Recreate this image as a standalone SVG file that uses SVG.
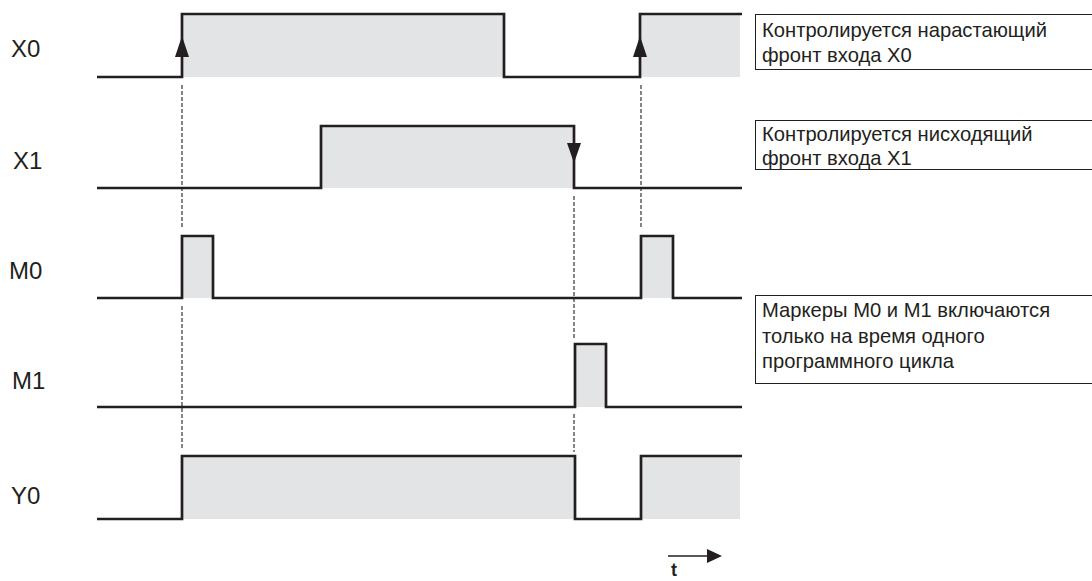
<svg xmlns="http://www.w3.org/2000/svg" width="1092" height="581" viewBox="0 0 1092 581">
<defs>
<style>
.fill{fill:#e3e4e6;stroke:none}
.sig{fill:none;stroke:#231f20;stroke-width:2.7;stroke-linejoin:miter}
.dash{fill:none;stroke:#231f20;stroke-width:1.1;stroke-dasharray:4 2}
.lbl{font-family:"Liberation Sans",Arial,sans-serif;font-size:24px;fill:#231f20}
.note{font-family:"Liberation Sans",Arial,sans-serif;font-size:20.2px;fill:#231f20}
.box{fill:#ffffff;stroke:#231f20;stroke-width:1}
.ah{fill:#231f20;stroke:none}
</style>
</defs>
<rect width="1092" height="581" fill="#ffffff"/>
<g id="X0">
<rect class="fill" x="182" y="14" width="322" height="63"/>
<rect class="fill" x="640" y="14" width="100" height="63"/>
<polyline class="sig" points="97,77 182,77 182,14 504,14 504,77 640,77 640,14 742,14"/>
<polygon class="ah" points="182,36 175,57 189,57"/>
<polygon class="ah" points="640,36 633,57 647,57"/>
<text class="lbl" x="11" y="57">X0</text>
</g>
<g id="X1">
<rect class="fill" x="321" y="126" width="253" height="62"/>
<polyline class="sig" points="97,188 321,188 321,126 574,126 574,188 742,188"/>
<polygon class="ah" points="574,163 567,143 581,143"/>
<text class="lbl" x="13" y="169">X1</text>
</g>
<g id="M0">
<rect class="fill" x="182" y="236" width="31" height="62"/>
<rect class="fill" x="641" y="236" width="32" height="62"/>
<polyline class="sig" points="97,298 182,298 182,236 213,236 213,298 641,298 641,236 673,236 673,298 742,298"/>
<text class="lbl" x="9" y="279">M0</text>
</g>
<g id="M1">
<rect class="fill" x="575" y="344" width="31" height="63"/>
<polyline class="sig" points="97,407 575,407 575,344 606,344 606,407 742,407"/>
<text class="lbl" x="12" y="389">M1</text>
</g>
<g id="Y0">
<rect class="fill" x="182" y="456" width="393" height="63"/>
<rect class="fill" x="641" y="456" width="99" height="63"/>
<polyline class="sig" points="97,519 182,519 182,456 575,456 575,519 641,519 641,456 742,456"/>
<text class="lbl" x="11" y="504">Y0</text>
</g>
<g id="connectors">
<line class="dash" x1="182" y1="85" x2="182" y2="229"/>
<line class="dash" x1="182" y1="306" x2="182" y2="450"/>
<line class="dash" x1="574" y1="196" x2="574" y2="338"/>
<line class="dash" x1="574" y1="414" x2="574" y2="452"/>
<line class="dash" x1="641" y1="85" x2="641" y2="229"/>
</g>
<g id="note1">
<rect class="box" x="755.5" y="14.5" width="340" height="55"/>
<text class="note" x="762" y="37">Контролируется нарастающий</text>
<text class="note" x="762" y="62">фронт входа X0</text>
</g>
<g id="note2">
<rect class="box" x="755.5" y="120.5" width="340" height="49"/>
<text class="note" x="762" y="141">Контролируется нисходящий</text>
<text class="note" x="762" y="165">фронт входа X1</text>
</g>
<g id="note3">
<rect class="box" x="755.5" y="295.5" width="340" height="88"/>
<text class="note" x="762" y="317">Маркеры M0 и M1 включаются</text>
<text class="note" x="762" y="343">только на время одного</text>
<text class="note" x="762" y="368">программного цикла</text>
</g>
<g id="time">
<line x1="668" y1="556" x2="708" y2="556" stroke="#231f20" stroke-width="1.5"/>
<polygon class="ah" points="722,556 707,549 707,563"/>
<text x="671" y="576" font-family="Liberation Sans, Arial, sans-serif" font-size="18px" font-weight="bold" fill="#231f20">t</text>
</g>
</svg>
